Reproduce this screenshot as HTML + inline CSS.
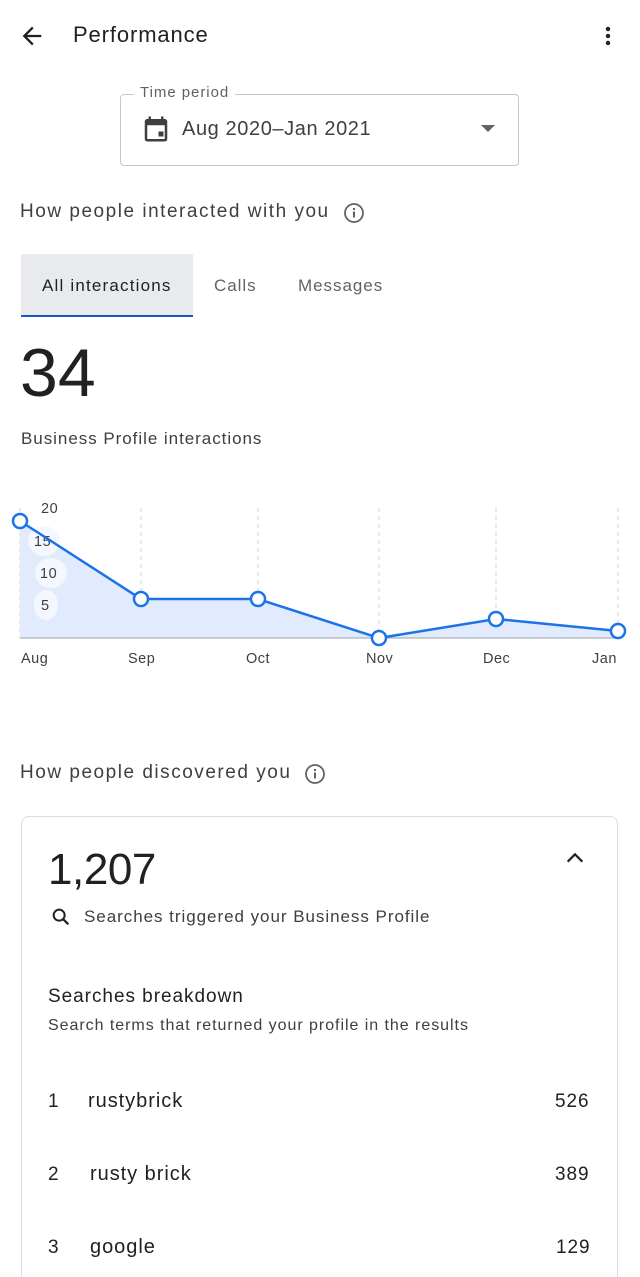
<!DOCTYPE html>
<html><head><meta charset="utf-8"><style>
html,body{margin:0;width:640px;height:1277px;overflow:hidden}
body{background:#fff;font-family:"Liberation Sans",Roboto,sans-serif;color:#202124;position:relative;letter-spacing:0.06em}
.a{position:absolute;white-space:nowrap}
</style></head><body>
<svg class="a" style="left:18px;top:22px" width="28" height="28" viewBox="0 0 24 24"><path d="M20 11H7.8l5.6-5.6L12 4l-8 8 8 8 1.4-1.4L7.8 13H20z" fill="#202124"/></svg>
<div class="a" style="left:73px;top:22px;font-size:22px;color:#202124;letter-spacing:0.04em">Performance</div>
<svg class="a" style="left:596px;top:24px" width="24" height="24" viewBox="0 0 24 24"><circle cx="12" cy="5" r="2.2" fill="#202124"/><circle cx="12" cy="12" r="2.2" fill="#202124"/><circle cx="12" cy="19" r="2.2" fill="#202124"/></svg>

<div class="a" style="left:120px;top:94px;width:397px;height:70px;border:1px solid #c6c6c6;border-radius:4px"></div>
<div class="a" style="left:134px;top:84px;background:#fff;padding:0 6px;font-size:15px;color:#5f6368">Time period</div>
<svg class="a" style="left:141px;top:114px" width="30" height="30" viewBox="0 0 24 24"><path d="M19 4h-1V2h-2v2H8V2H6v2H5a2 2 0 0 0-2 2v14a2 2 0 0 0 2 2h14a2 2 0 0 0 2-2V6a2 2 0 0 0-2-2zm0 16H5V9h14zm-5-6h4v4h-4z" fill="#3c4043"/></svg>
<div class="a" style="left:182px;top:118px;font-size:20px;color:#3c4043;letter-spacing:0.03em">Aug 2020–Jan 2021</div>
<div class="a" style="left:481px;top:125px;width:0;height:0;border-left:7px solid transparent;border-right:7px solid transparent;border-top:7px solid #5f6368"></div>

<div class="a" style="left:20px;top:201px;font-size:19px;color:#3c4043;letter-spacing:0.08em">How people interacted with you</div>
<svg class="a" style="left:342px;top:201px" width="24" height="24" viewBox="0 0 24 24"><circle cx="12" cy="12" r="9" fill="none" stroke="#5f6368" stroke-width="1.8"/><rect x="11" y="10.5" width="2" height="6" fill="#5f6368"/><rect x="11" y="7" width="2" height="2" fill="#5f6368"/></svg>

<div class="a" style="left:21px;top:254px;width:172px;height:61px;background:#e8eaed;border-bottom:2px solid #1a56c4"></div>
<div class="a" style="left:42px;top:276px;font-size:17px;color:#202124;letter-spacing:0.07em">All interactions</div>
<div class="a" style="left:214px;top:276px;font-size:17px;color:#5f6368">Calls</div>
<div class="a" style="left:298px;top:276px;font-size:17px;color:#5f6368">Messages</div>

<div class="a" style="left:20px;top:334px;font-size:68px;color:#202124;letter-spacing:0">34</div>
<div class="a" style="left:21px;top:429px;font-size:17px;color:#3c4043">Business Profile interactions</div>

<svg class="a" style="left:0;top:490px" width="640" height="190">
<g stroke="#d0d0d0" stroke-dasharray="4,4" stroke-width="1">
<line x1="20" y1="18" x2="20" y2="148"/><line x1="141" y1="18" x2="141" y2="148"/><line x1="258" y1="18" x2="258" y2="148"/><line x1="379" y1="18" x2="379" y2="148"/><line x1="496" y1="18" x2="496" y2="148"/><line x1="618" y1="18" x2="618" y2="148"/></g>
<polygon points="20,31 141,109 258,109 379,148 496,129 618,141 618,148 20,148" fill="#e1ebfd"/>
<line x1="20" y1="148" x2="620" y2="148" stroke="#9aa0a6" stroke-width="1"/>
<ellipse cx="44" cy="51" rx="16" ry="15" fill="#f4f7fe"/><ellipse cx="51" cy="83" rx="16" ry="15" fill="#f4f7fe"/><ellipse cx="46" cy="115" rx="12" ry="15" fill="#f4f7fe"/>
<g font-size="14.5" fill="#3c4043" font-family="Liberation Sans,sans-serif" letter-spacing="0.5"><text x="41" y="23">20</text><text x="34" y="56">15</text><text x="40" y="88">10</text><text x="41" y="120">5</text>
<text x="21" y="173">Aug</text><text x="128" y="173">Sep</text><text x="246" y="173">Oct</text><text x="366" y="173">Nov</text><text x="483" y="173">Dec</text><text x="592" y="173">Jan</text></g>
<polyline points="20,31 141,109 258,109 379,148 496,129 618,141" fill="none" stroke="#1a73e8" stroke-width="2.5"/>
<g fill="#fff" stroke="#1a73e8" stroke-width="2.5"><circle cx="20" cy="31" r="7"/><circle cx="141" cy="109" r="7"/><circle cx="258" cy="109" r="7"/><circle cx="379" cy="148" r="7"/><circle cx="496" cy="129" r="7"/><circle cx="618" cy="141" r="7"/></g>
</svg>

<div class="a" style="left:20px;top:762px;font-size:19px;color:#3c4043;letter-spacing:0.08em">How people discovered you</div>
<svg class="a" style="left:303px;top:762px" width="24" height="24" viewBox="0 0 24 24"><circle cx="12" cy="12" r="9" fill="none" stroke="#5f6368" stroke-width="1.8"/><rect x="11" y="10.5" width="2" height="6" fill="#5f6368"/><rect x="11" y="7" width="2" height="2" fill="#5f6368"/></svg>

<div class="a" style="left:21px;top:816px;width:595px;height:480px;border:1px solid #dadce0;border-radius:8px"></div>
<div class="a" style="left:48px;top:845px;font-size:44px;color:#202124;letter-spacing:-0.01em">1,207</div>
<svg class="a" style="left:564px;top:847px" width="22" height="22" viewBox="0 0 24 24"><path d="M4 16l8-8 8 8" fill="none" stroke="#202124" stroke-width="2.4"/></svg>
<svg class="a" style="left:50px;top:906px" width="22" height="22" viewBox="0 0 24 24"><circle cx="10" cy="10" r="6" fill="none" stroke="#202124" stroke-width="2.2"/><line x1="14.5" y1="14.5" x2="20" y2="20" stroke="#202124" stroke-width="2.4"/></svg>
<div class="a" style="left:84px;top:907px;font-size:17px;color:#3c4043">Searches triggered your Business Profile</div>
<div class="a" style="left:48px;top:986px;font-size:19px;color:#202124">Searches breakdown</div>
<div class="a" style="left:48px;top:1017px;font-size:16px;color:#3c4043">Search terms that returned your profile in the results</div>
<div class="a" style="left:48px;top:1091px;font-size:19px">1</div><div class="a" style="left:88px;top:1090px;font-size:20px">rustybrick</div><div class="a" style="left:555px;top:1091px;font-size:19px">526</div>
<div class="a" style="left:48px;top:1164px;font-size:19px">2</div><div class="a" style="left:90px;top:1163px;font-size:20px">rusty brick</div><div class="a" style="left:555px;top:1164px;font-size:19px">389</div>
<div class="a" style="left:48px;top:1237px;font-size:19px">3</div><div class="a" style="left:90px;top:1236px;font-size:20px">google</div><div class="a" style="left:556px;top:1237px;font-size:19px">129</div>
</body></html>
